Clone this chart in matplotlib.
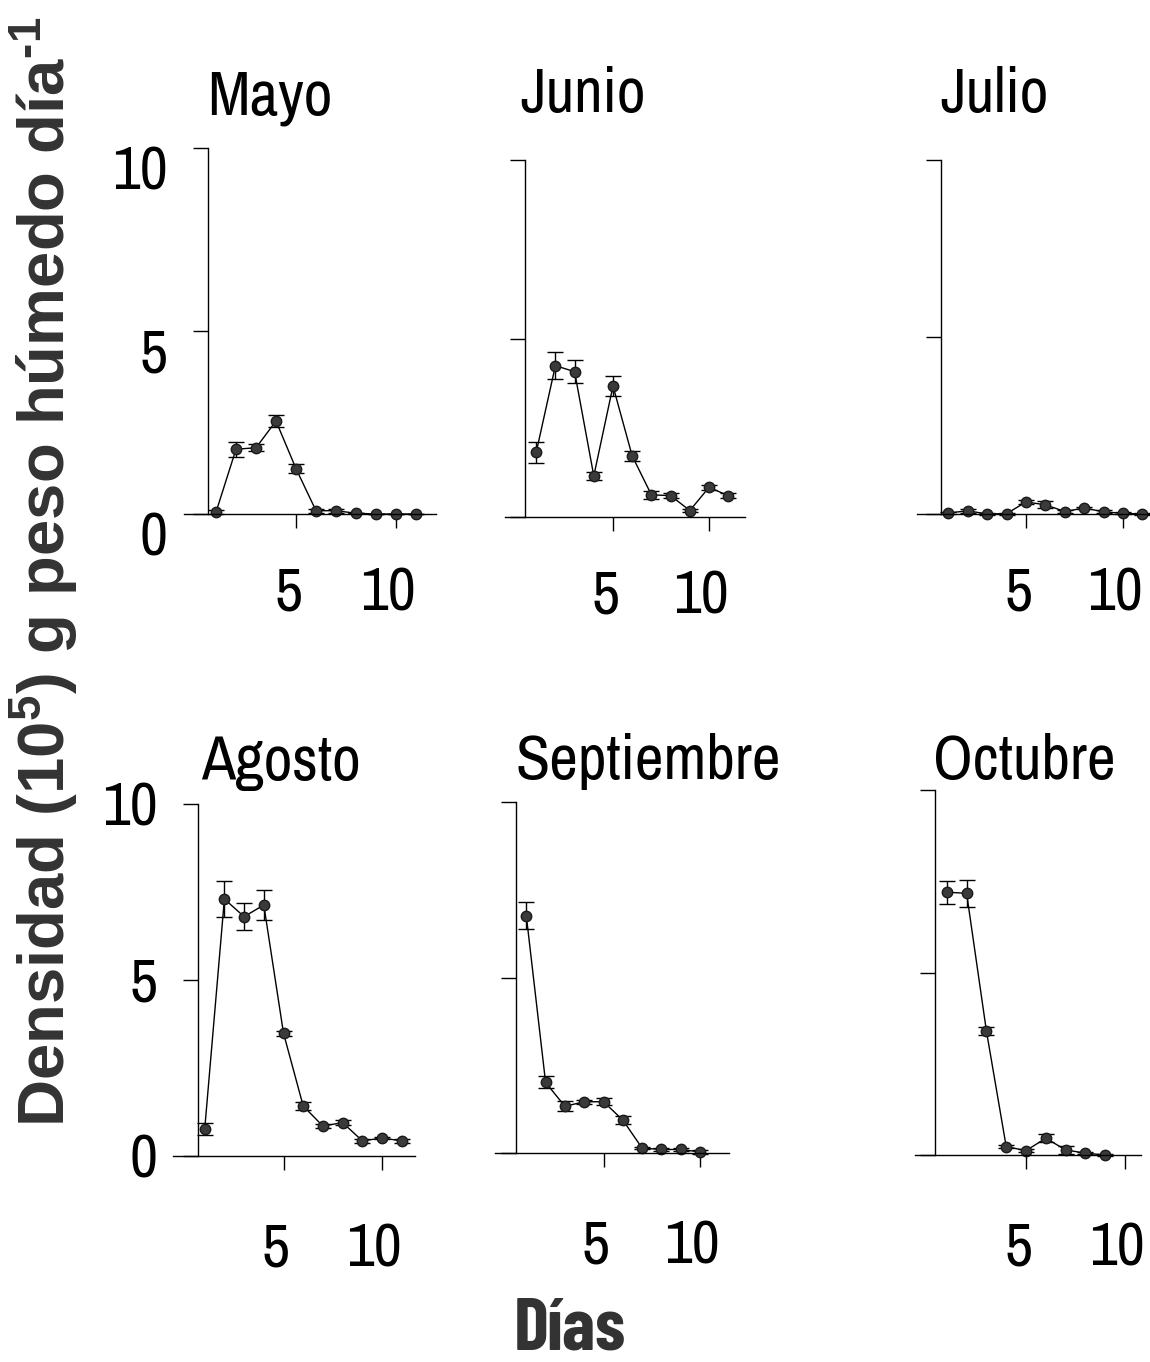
import numpy as np
import matplotlib
matplotlib.use('Agg')
import matplotlib.pyplot as plt
import matplotlib.transforms as mtransforms

# superscripts in the y label use the bold sans face
plt.rcParams['mathtext.fontset'] = 'custom'
plt.rcParams['mathtext.rm'] = 'Liberation Sans:bold'
plt.rcParams['mathtext.default'] = 'rm'

# figure size in pixels (dpi 100)
W, H = 1150, 1362

# data: mean density per day and error
meses = ["Mayo", "Junio", "Julio", "Agosto", "Septiembre", "Octubre"]

dias_mayo = [1, 2, 3, 4, 5, 6, 7, 8, 9, 10, 11]
mayo = [0.05, 1.77, 1.81, 2.54, 1.24, 0.09, 0.09, 0.02, 0.0, 0.0, 0.0]
mayo_err = [0.05, 0.20, 0.10, 0.16, 0.12, 0.05, 0.05, 0.0, 0.0, 0.0, 0.0]

dias_junio = [1, 2, 3, 4, 5, 6, 7, 8, 9, 10, 11]
junio = [1.81, 4.24, 4.07, 1.15, 3.67, 1.71, 0.62, 0.60, 0.18, 0.83, 0.60]
junio_err = [0.30, 0.37, 0.32, 0.12, 0.29, 0.13, 0.12, 0.08, 0.05, 0.07, 0.07]

dias_julio = [1, 2, 3, 4, 5, 6, 7, 8, 9, 10, 11]
julio = [0.03, 0.09, 0.0, 0.01, 0.34, 0.26, 0.07, 0.17, 0.06, 0.02, 0.0]
julio_err = [0.04, 0.05, 0.03, 0.03, 0.05, 0.10, 0.04, 0.03, 0.04, 0.03, 0.02]

dias_agosto = [1, 2, 3, 4, 5, 6, 7, 8, 9, 10, 11]
agosto = [0.76, 7.30, 6.80, 7.13, 3.49, 1.42, 0.85, 0.95, 0.43, 0.51, 0.43]
agosto_err = [0.17, 0.50, 0.38, 0.43, 0.07, 0.10, 0.06, 0.07, 0.06, 0.04, 0.05]

dias_sept = [1, 2, 3, 4, 5, 6, 7, 8, 9, 10]
sept = [6.76, 2.01, 1.33, 1.46, 1.46, 0.94, 0.14, 0.10, 0.10, 0.03]
sept_err = [0.38, 0.17, 0.14, 0.06, 0.10, 0.10, 0.04, 0.03, 0.03, 0.05]

dias_oct = [1, 2, 3, 4, 5, 6, 7, 8, 9]
octubre = [7.20, 7.17, 3.40, 0.23, 0.12, 0.46, 0.14, 0.05, 0.0]
octubre_err = [0.32, 0.37, 0.12, 0.05, 0.05, 0.11, 0.10, 0.03, 0.02]

series = [(dias_mayo, mayo, mayo_err), (dias_junio, junio, junio_err),
          (dias_julio, julio, julio_err), (dias_agosto, agosto, agosto_err),
          (dias_sept, sept, sept_err), (dias_oct, octubre, octubre_err)]

# panel geometry in pixels: day-0 x, px per day, y of zero, px per unit,
# position of the y spine (days), right end of x axis (days), title anchor
layout = [
    dict(x0=196, ppd=20.0, y0=514, ppu=36.6, xs=0.6, xr=12.0, tx=207, ty=115),
    dict(x0=517, ppd=19.2, y0=517, ppu=35.7, xs=0.42, xr=11.9, tx=520, ty=112),
    dict(x0=929, ppd=19.4, y0=514, ppu=35.4, xs=0.6, xr=11.6, tx=940, ty=112),
    dict(x0=185, ppd=19.7, y0=1156, ppu=35.2, xs=0.66, xr=11.7, tx=201, ty=780),
    dict(x0=507, ppd=19.3, y0=1153, ppu=35.1, xs=0.48, xr=11.5, tx=515, ty=779),
    dict(x0=927, ppd=19.8, y0=1155, ppu=36.5, xs=0.4, xr=10.8, tx=933, ty=779),
]

# narrow face like the original (falls back to condensed DejaVu)
narrow = ['Liberation Sans Narrow', 'Archivo Narrow', 'DejaVu Sans']
narrow_bold = ['Liberation Sans Narrow', 'Barlow Condensed', 'DejaVu Sans']
bold = ['Liberation Sans', 'DejaVu Sans']
FS = 44

fig = plt.figure(figsize=(W / 100, H / 100), dpi=100)
fig.patch.set_facecolor('white')

for i, (mes, (dias, vals, err), L) in enumerate(zip(meses, series, layout)):
    xl, yb, yt = -0.6, -0.4, 10.3
    left = L['x0'] + xl * L['ppd']
    right = L['x0'] + L['xr'] * L['ppd']
    top = L['y0'] - yt * L['ppu']
    bot = L['y0'] - yb * L['ppu']
    ax = fig.add_axes([left / W, 1 - bot / H, (right - left) / W, (bot - top) / H])
    ax.set_xlim(xl, L['xr'])
    ax.set_ylim(yb, yt)
    ax.patch.set_alpha(0)

    ax.errorbar(dias, vals, yerr=err, fmt='-o', color='black', lw=1.0,
                ms=7.5, mfc='#3a3a3a', mec='#1a1a1a', ecolor='black',
                elinewidth=1.0, capsize=6, capthick=1.0, clip_on=False)

    # only the two axis lines, y spine sits inside the x range
    ax.spines['right'].set_visible(False)
    ax.spines['top'].set_visible(False)
    ax.spines['left'].set_position(('data', L['xs']))
    ax.spines['left'].set_bounds(0, 10)
    ax.spines['bottom'].set_position(('data', 0))
    for s in ('left', 'bottom'):
        ax.spines[s].set_linewidth(1.0)

    ax.set_xticks([5, 10])
    ax.set_yticks([0, 5, 10])
    row = i // 3
    ax.tick_params(axis='x', direction='out', length=10, width=1.0,
                   pad=28 if row == 0 else 38, labelsize=FS)
    ax.tick_params(axis='y', direction='out', length=11, width=1.0,
                   pad=18, labelsize=FS, labelleft=(i % 3 == 0))
    for lbl in ax.get_xticklabels() + ax.get_yticklabels():
        lbl.set_family(narrow)
        lbl.set_stretch('condensed')

    # scanned labels sit a bit off their ticks
    dx = mtransforms.ScaledTranslation(-8 / 100, 0, fig.dpi_scale_trans)
    for lbl in ax.get_xticklabels():
        lbl.set_transform(lbl.get_transform() + dx)
    if row == 0:
        dy = mtransforms.ScaledTranslation(0, -19 / 100, fig.dpi_scale_trans)
        for lbl in ax.get_yticklabels():
            lbl.set_transform(lbl.get_transform() + dy)

    fig.text(L['tx'] / W, 1 - L['ty'] / H, mes, fontsize=FS + 1, family=narrow,
             fontstretch='condensed', ha='left', va='baseline')

# shared axis labels
fig.text(44 / W, 1 - 572 / H, r'Densidad (10$^{5}$) g peso húmedo día$^{\text{-}1}$',
         rotation=90, ha='center', va='center', fontsize=47, fontweight='bold',
         family=bold, color='#333333')
fig.text(570 / W, 1 - 1350 / H, 'Días', ha='center', va='baseline',
         fontsize=53, fontweight='bold', family=narrow_bold, fontstretch='condensed',
         color='#333333')

fig.savefig('out.png', dpi=100, facecolor='white')
